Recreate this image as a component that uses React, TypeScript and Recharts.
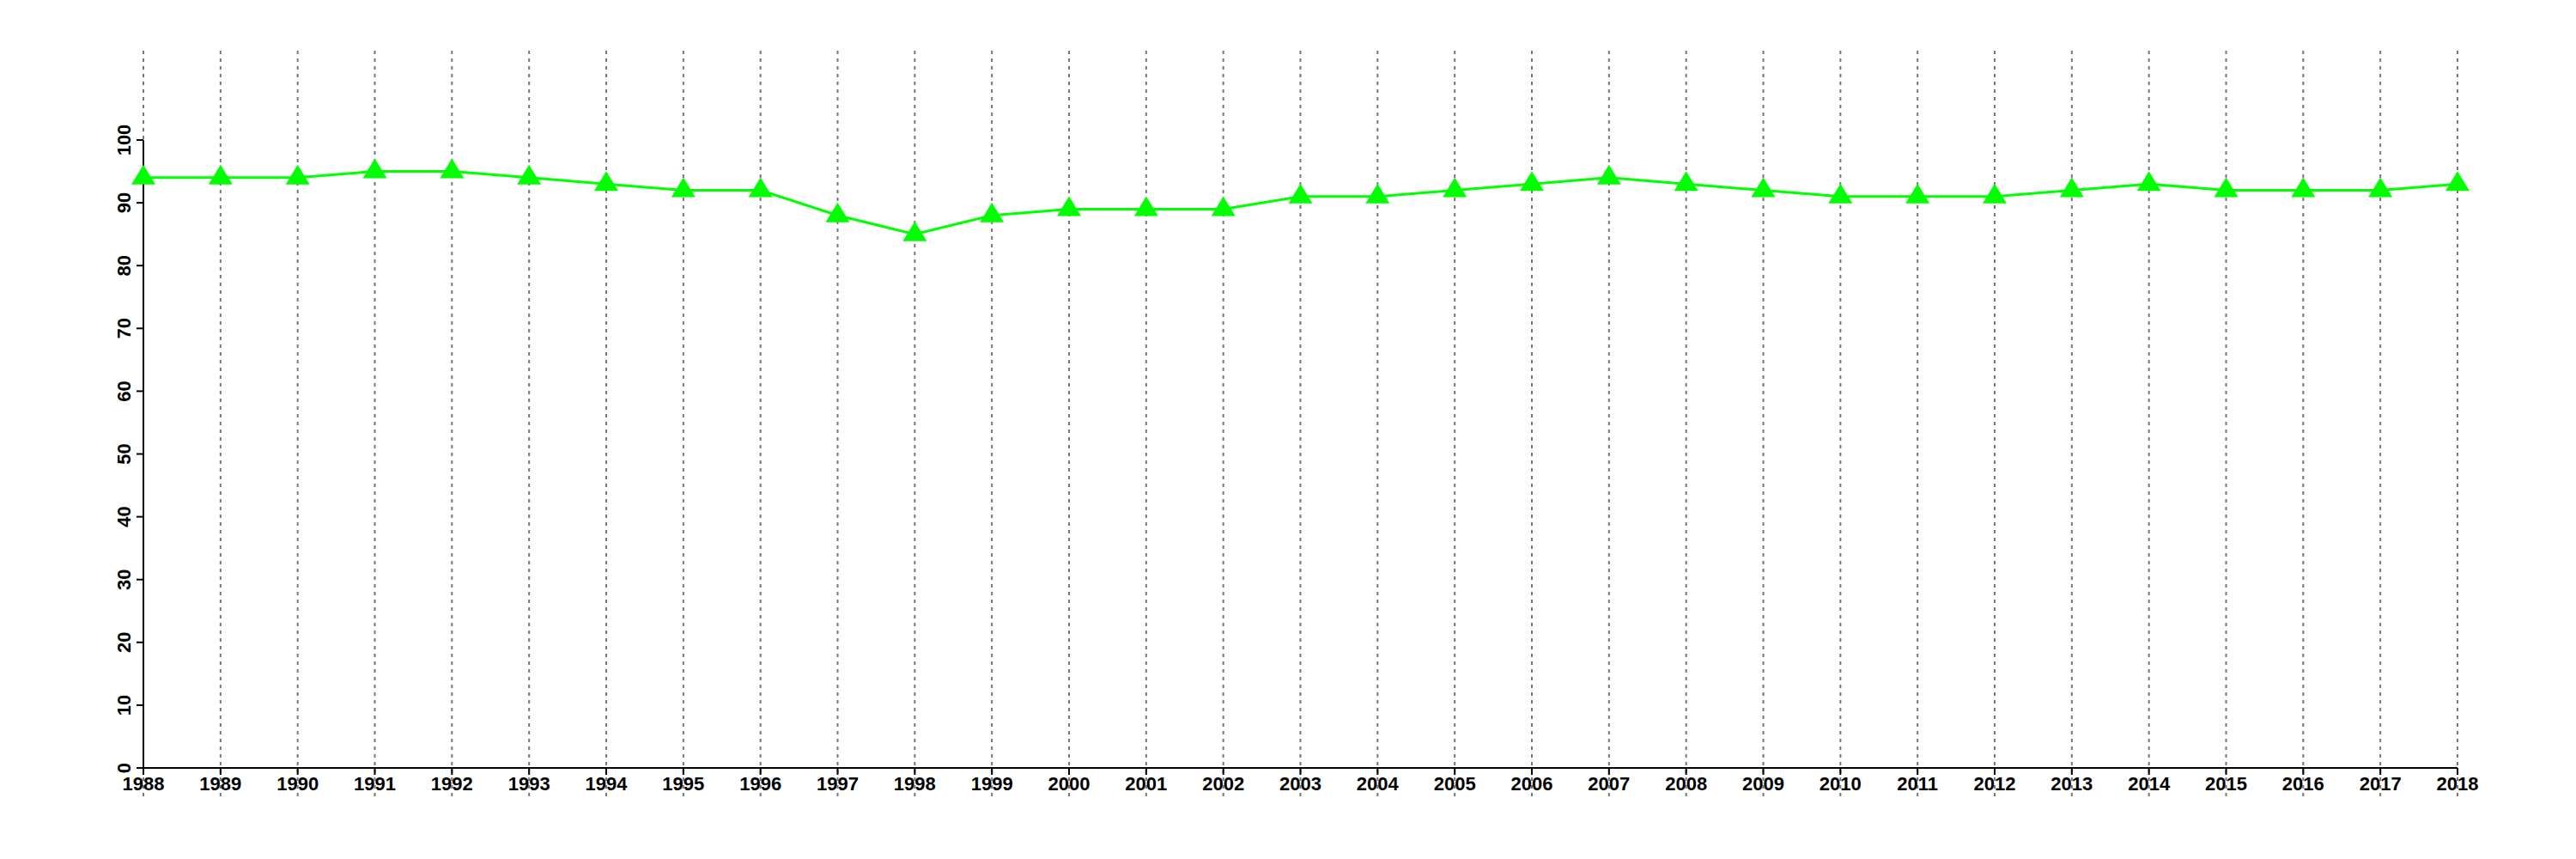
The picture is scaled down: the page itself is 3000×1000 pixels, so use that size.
import React from "react";
import { LineChart, Line, XAxis, YAxis, ReferenceLine } from "recharts";

const years = [
  1988, 1989, 1990, 1991, 1992, 1993, 1994, 1995, 1996, 1997, 1998, 1999, 2000,
  2001, 2002, 2003, 2004, 2005, 2006, 2007, 2008, 2009, 2010, 2011, 2012, 2013,
  2014, 2015, 2016, 2017, 2018,
];
const values = [
  94, 94, 94, 95, 95, 94, 93, 92, 92, 88, 85, 88, 89, 89, 89, 91, 91, 92, 93,
  94, 93, 92, 91, 91, 91, 92, 93, 92, 92, 92, 93,
];
const yTicks = [0, 10, 20, 30, 40, 50, 60, 70, 80, 90, 100];

const data = years.map((year, i) => ({ year, value: values[i] }));

const FONT = "'Liberation Sans', Arial, Helvetica, sans-serif";

const Triangle = (props: any) => {
  const { cx, cy } = props;
  if (cx == null || cy == null) return null;
  return (
    <polygon
      points={`${cx},${cy - 15} ${cx - 14},${cy + 8} ${cx + 14},${cy + 8}`}
      fill="#00ff00"
    />
  );
};

const XTick = (props: any) => {
  const { x, y, payload } = props;
  return (
    <text
      x={x}
      y={y + 16}
      textAnchor="middle"
      fontSize={22}
      fontWeight="bold"
      fontFamily={FONT}
      fill="#000"
    >
      {payload.value}
    </text>
  );
};

const YTick = (props: any) => {
  const { x, y, payload } = props;
  const tx = x - 5;
  return (
    <text
      x={tx}
      y={y}
      transform={`rotate(-90, ${tx}, ${y})`}
      textAnchor="middle"
      fontSize={22}
      fontWeight="bold"
      fontFamily={FONT}
      fill="#000"
    >
      {payload.value}
    </text>
  );
};

export default function App() {
  return (
    <div style={{ width: 3000, height: 1000, background: "#fff" }}>
      <style>{`body{margin:0}`}</style>
      <LineChart
        width={3000}
        height={1000}
        data={data}
        margin={{ top: 163, right: 138, bottom: 76, left: 107 }}
      >
        <XAxis
          dataKey="year"
          type="number"
          domain={[1988, 2018]}
          ticks={years}
          interval={0}
          height={30}
          tickSize={8}
          axisLine={{ stroke: "#000", strokeWidth: 2 }}
          tickLine={{ stroke: "#000", strokeWidth: 2 }}
          tick={<XTick />}
        />
        <YAxis
          type="number"
          domain={[0, 100]}
          ticks={yTicks}
          interval={0}
          width={60}
          tickSize={8}
          axisLine={{ stroke: "#000", strokeWidth: 2 }}
          tickLine={{ stroke: "#000", strokeWidth: 2 }}
          tick={<YTick />}
        />
        {years.map((yr) => (
          <ReferenceLine
            key={yr}
            segment={[
              { x: yr, y: -4.5 },
              { x: yr, y: 114.3 },
            ]}
            ifOverflow="visible"
            stroke="#777"
            strokeWidth={2}
            strokeDasharray="4 5"
          />
        ))}
        <Line
          dataKey="value"
          stroke="#00ff00"
          strokeWidth={3}
          dot={<Triangle />}
          activeDot={false}
          isAnimationActive={false}
        />
      </LineChart>
    </div>
  );
}
